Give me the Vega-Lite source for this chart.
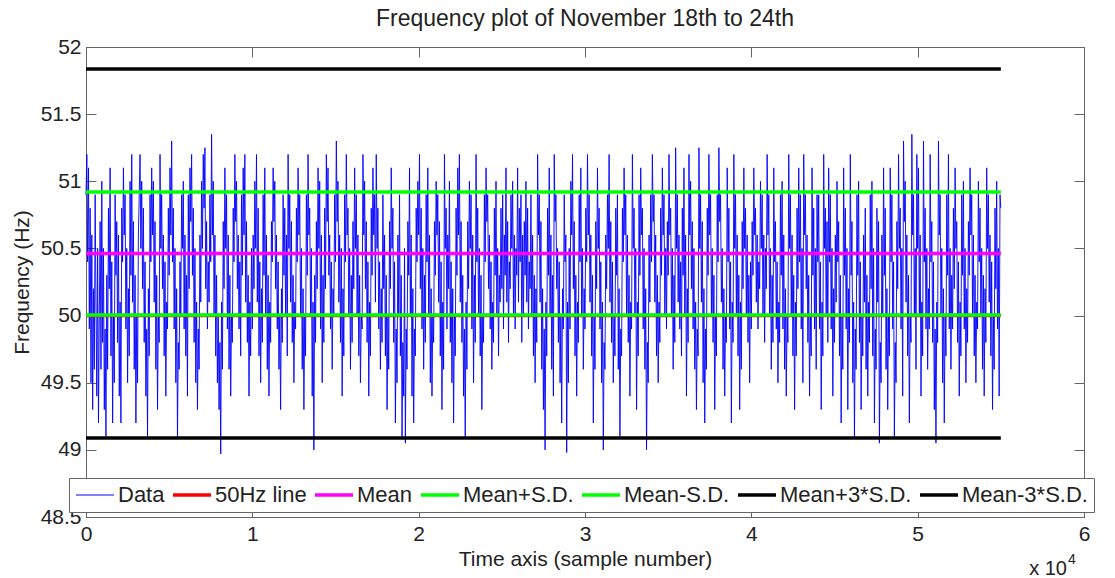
{
  "$schema": "https://vega.github.io/schema/vega-lite/v6.json",
  "autosize": "none",
  "width": 998,
  "height": 470,
  "padding": {"left": 86, "top": 47, "right": 31, "bottom": 61},
  "background": "white",
  "title": {"text": "Frequency plot of November 18th to 24th", "font": "Liberation Sans", "fontSize": 23, "fontWeight": "normal", "color": "#222", "anchor": "middle", "baseline": "alphabetic", "offset": -13},
  "config": {
    "view": {"stroke": "#666", "strokeWidth": 1},
    "axis": {"labelFont": "Liberation Sans", "labelFontSize": 21, "labelColor": "#222", "titleFont": "Liberation Sans", "titleFontSize": 21, "titleFontWeight": "normal", "titleColor": "#222", "grid": false, "domainColor": "#666", "tickColor": "#666", "tickSize": -10, "labelFlush": false, "labelOverlap": false, "labelBound": false},
    "legend": {"title": null, "orient": "none", "legendX": -17, "legendY": 431, "direction": "horizontal", "symbolType": "M-1.9,0H1.9", "symbolSize": 400, "symbolStrokeWidth": 3.5, "symbolOffset": 9, "labelFont": "Liberation Sans", "labelFontSize": 22, "labelColor": "#222", "labelOffset": 12, "columnPadding": 1, "padding": 6, "strokeColor": "#666", "fillColor": "white"}
  },
  "data": {"values": [
{"s":0,"f":50.9},{"s":50,"f":51.2},{"s":100,"f":50.4},{"s":150,"f":51.1},{"s":200,"f":49.9},{"s":250,"f":50.8},{"s":300,"f":49.5},{"s":350,"f":50.6},{"s":400,"f":49.3},{"s":450,"f":50.2},{"s":500,"f":49.6},{"s":550,"f":50.9},{"s":600,"f":50.1},{"s":650,"f":49.4},{"s":700,"f":50.5},{"s":750,"f":49.2},{"s":800,"f":50.0},{"s":850,"f":50.7},{"s":900,"f":49.6},{"s":950,"f":51.0},
{"s":1000,"f":49.8},{"s":1050,"f":50.5},{"s":1100,"f":49.3},{"s":1150,"f":49.9},{"s":1200,"f":49.1},{"s":1250,"f":50.3},{"s":1300,"f":49.6},{"s":1350,"f":50.8},{"s":1400,"f":50.2},{"s":1450,"f":51.1},{"s":1500,"f":49.7},{"s":1550,"f":50.4},{"s":1600,"f":49.2},{"s":1650,"f":50.0},{"s":1700,"f":49.5},{"s":1750,"f":50.9},{"s":1800,"f":50.3},{"s":1850,"f":50.7},{"s":1900,"f":49.8},{"s":1950,"f":50.6},
{"s":2000,"f":49.4},{"s":2050,"f":50.1},{"s":2100,"f":49.2},{"s":2150,"f":50.8},{"s":2200,"f":50.4},{"s":2250,"f":51.1},{"s":2300,"f":50.6},{"s":2350,"f":50.9},{"s":2400,"f":49.9},{"s":2450,"f":50.5},{"s":2500,"f":49.5},{"s":2550,"f":50.2},{"s":2600,"f":49.7},{"s":2650,"f":51.0},{"s":2700,"f":50.3},{"s":2750,"f":51.2},{"s":2800,"f":50.1},{"s":2850,"f":50.7},{"s":2900,"f":49.6},{"s":2950,"f":50.3},
{"s":3000,"f":49.2},{"s":3050,"f":50.0},{"s":3100,"f":49.5},{"s":3150,"f":50.6},{"s":3200,"f":50.9},{"s":3250,"f":51.2},{"s":3300,"f":50.5},{"s":3350,"f":51.0},{"s":3400,"f":50.2},{"s":3450,"f":50.8},{"s":3500,"f":49.8},{"s":3550,"f":50.4},{"s":3600,"f":49.4},{"s":3650,"f":49.9},{"s":3700,"f":49.1},{"s":3750,"f":50.2},{"s":3800,"f":49.7},{"s":3850,"f":50.9},{"s":3900,"f":50.4},{"s":3950,"f":51.1},
{"s":4000,"f":50.6},{"s":4050,"f":51.0},{"s":4100,"f":50.1},{"s":4150,"f":50.7},{"s":4200,"f":49.6},{"s":4250,"f":50.3},{"s":4300,"f":49.3},{"s":4350,"f":50.0},{"s":4400,"f":49.8},{"s":4450,"f":51.2},{"s":4500,"f":50.5},{"s":4550,"f":50.9},{"s":4600,"f":50.2},{"s":4650,"f":50.6},{"s":4700,"f":49.7},{"s":4750,"f":50.4},{"s":4800,"f":49.4},{"s":4850,"f":50.1},{"s":4900,"f":49.9},{"s":4950,"f":50.8},
{"s":5000,"f":50.3},{"s":5050,"f":51.1},{"s":5100,"f":50.6},{"s":5150,"f":51.3},{"s":5200,"f":50.4},{"s":5250,"f":50.8},{"s":5300,"f":49.9},{"s":5350,"f":50.5},{"s":5400,"f":49.5},{"s":5450,"f":50.2},{"s":5500,"f":49.1},{"s":5550,"f":49.8},{"s":5600,"f":49.6},{"s":5650,"f":50.4},{"s":5700,"f":50.0},{"s":5750,"f":50.9},{"s":5800,"f":50.5},{"s":5850,"f":51.0},{"s":5900,"f":49.9},{"s":5950,"f":50.6},
{"s":6000,"f":49.7},{"s":6050,"f":50.3},{"s":6100,"f":49.4},{"s":6150,"f":50.9},{"s":6200,"f":50.2},{"s":6250,"f":51.1},{"s":6300,"f":50.7},{"s":6350,"f":51.2},{"s":6400,"f":50.3},{"s":6450,"f":50.8},{"s":6500,"f":49.8},{"s":6550,"f":50.5},{"s":6600,"f":49.5},{"s":6650,"f":50.1},{"s":6700,"f":49.3},{"s":6750,"f":49.9},{"s":6800,"f":49.6},{"s":6850,"f":50.6},{"s":6900,"f":50.1},{"s":6950,"f":51.0},
{"s":7000,"f":50.5},{"s":7050,"f":51.2},{"s":7100,"f":50.8},{"s":7150,"f":51.25},{"s":7200,"f":50.2},{"s":7250,"f":50.7},{"s":7300,"f":49.9},{"s":7350,"f":50.4},{"s":7400,"f":50.1},{"s":7450,"f":50.9},{"s":7500,"f":50.4},{"s":7550,"f":51.35},{"s":7600,"f":50.6},{"s":7650,"f":51.0},{"s":7700,"f":50.0},{"s":7750,"f":50.6},{"s":7800,"f":49.7},{"s":7850,"f":50.3},{"s":7900,"f":49.5},{"s":7950,"f":50.0},
{"s":8000,"f":49.3},{"s":8050,"f":49.8},{"s":8100,"f":48.97},{"s":8150,"f":50.1},{"s":8200,"f":49.6},{"s":8250,"f":50.7},{"s":8300,"f":50.2},{"s":8350,"f":51.1},{"s":8400,"f":50.5},{"s":8450,"f":50.9},{"s":8500,"f":49.9},{"s":8550,"f":50.6},{"s":8600,"f":49.6},{"s":8650,"f":50.3},{"s":8700,"f":49.4},{"s":8750,"f":50.0},{"s":8800,"f":49.8},{"s":8850,"f":50.8},{"s":8900,"f":50.4},{"s":8950,"f":51.2},
{"s":9000,"f":50.7},{"s":9050,"f":51.0},{"s":9100,"f":50.2},{"s":9150,"f":50.6},{"s":9200,"f":49.9},{"s":9250,"f":50.4},{"s":9300,"f":49.7},{"s":9350,"f":50.9},{"s":9400,"f":50.3},{"s":9450,"f":51.1},{"s":9500,"f":50.6},{"s":9550,"f":51.2},{"s":9600,"f":50.1},{"s":9650,"f":50.7},{"s":9700,"f":49.8},{"s":9750,"f":50.3},{"s":9800,"f":49.4},{"s":9850,"f":50.1},{"s":9900,"f":49.7},{"s":9950,"f":50.5},
{"s":10000,"f":49.9},{"s":10050,"f":50.6},{"s":10100,"f":50.2},{"s":10150,"f":51.0},{"s":10200,"f":50.5},{"s":10250,"f":51.2},{"s":10300,"f":50.1},{"s":10350,"f":50.8},{"s":10400,"f":49.7},{"s":10450,"f":50.4},{"s":10500,"f":49.5},{"s":10550,"f":50.2},{"s":10600,"f":49.8},{"s":10650,"f":50.9},{"s":10700,"f":50.3},{"s":10750,"f":51.1},{"s":10800,"f":50.0},{"s":10850,"f":50.6},{"s":10900,"f":49.6},{"s":10950,"f":50.3},
{"s":11000,"f":49.4},{"s":11050,"f":50.1},{"s":11100,"f":49.8},{"s":11150,"f":50.7},{"s":11200,"f":50.4},{"s":11250,"f":51.1},{"s":11300,"f":50.7},{"s":11350,"f":51.0},{"s":11400,"f":50.2},{"s":11450,"f":50.6},{"s":11500,"f":49.9},{"s":11550,"f":50.4},{"s":11600,"f":49.6},{"s":11650,"f":50.0},{"s":11700,"f":49.3},{"s":11750,"f":50.2},{"s":11800,"f":49.8},{"s":11850,"f":50.9},{"s":11900,"f":50.3},{"s":11950,"f":50.8},
{"s":12000,"f":50.0},{"s":12050,"f":50.6},{"s":12100,"f":49.7},{"s":12150,"f":51.2},{"s":12200,"f":50.5},{"s":12250,"f":50.9},{"s":12300,"f":50.1},{"s":12350,"f":50.7},{"s":12400,"f":49.8},{"s":12450,"f":50.3},{"s":12500,"f":49.5},{"s":12550,"f":50.1},{"s":12600,"f":49.9},{"s":12650,"f":50.8},{"s":12700,"f":50.4},{"s":12750,"f":51.1},{"s":12800,"f":50.6},{"s":12850,"f":50.9},{"s":12900,"f":50.0},{"s":12950,"f":50.5},
{"s":13000,"f":49.6},{"s":13050,"f":50.2},{"s":13100,"f":49.3},{"s":13150,"f":50.0},{"s":13200,"f":49.7},{"s":13250,"f":50.9},{"s":13300,"f":50.3},{"s":13350,"f":51.2},{"s":13400,"f":50.6},{"s":13450,"f":50.8},{"s":13500,"f":50.0},{"s":13550,"f":50.5},{"s":13600,"f":49.4},{"s":13650,"f":50.1},{"s":13700,"f":49.0},{"s":13750,"f":50.3},{"s":13800,"f":49.8},{"s":13850,"f":50.7},{"s":13900,"f":50.2},{"s":13950,"f":51.1},
{"s":14000,"f":50.5},{"s":14050,"f":51.0},{"s":14100,"f":49.9},{"s":14150,"f":50.6},{"s":14200,"f":49.5},{"s":14250,"f":50.3},{"s":14300,"f":49.8},{"s":14350,"f":50.8},{"s":14400,"f":50.2},{"s":14450,"f":51.2},{"s":14500,"f":50.7},{"s":14550,"f":51.1},{"s":14600,"f":50.3},{"s":14650,"f":50.6},{"s":14700,"f":49.9},{"s":14750,"f":50.4},{"s":14800,"f":49.6},{"s":14850,"f":50.2},{"s":14900,"f":50.0},{"s":14950,"f":50.9},
{"s":15000,"f":50.4},{"s":15050,"f":51.3},{"s":15100,"f":50.7},{"s":15150,"f":51.0},{"s":15200,"f":50.1},{"s":15250,"f":50.6},{"s":15300,"f":49.8},{"s":15350,"f":50.5},{"s":15400,"f":49.4},{"s":15450,"f":50.2},{"s":15500,"f":49.7},{"s":15550,"f":50.9},{"s":15600,"f":50.4},{"s":15650,"f":51.2},{"s":15700,"f":50.6},{"s":15750,"f":50.8},{"s":15800,"f":50.0},{"s":15850,"f":50.5},{"s":15900,"f":49.6},{"s":15950,"f":50.3},
{"s":16000,"f":49.8},{"s":16050,"f":50.7},{"s":16100,"f":50.2},{"s":16150,"f":51.1},{"s":16200,"f":50.5},{"s":16250,"f":50.9},{"s":16300,"f":50.0},{"s":16350,"f":50.6},{"s":16400,"f":49.7},{"s":16450,"f":50.3},{"s":16500,"f":49.5},{"s":16550,"f":50.0},{"s":16600,"f":49.9},{"s":16650,"f":51.2},{"s":16700,"f":50.6},{"s":16750,"f":51.0},{"s":16800,"f":50.2},{"s":16850,"f":50.7},{"s":16900,"f":49.8},{"s":16950,"f":50.4},
{"s":17000,"f":49.4},{"s":17050,"f":50.1},{"s":17100,"f":49.7},{"s":17150,"f":50.8},{"s":17200,"f":50.3},{"s":17250,"f":51.1},{"s":17300,"f":50.6},{"s":17350,"f":50.9},{"s":17400,"f":50.1},{"s":17450,"f":51.2},{"s":17500,"f":50.5},{"s":17550,"f":50.8},{"s":17600,"f":49.9},{"s":17650,"f":50.4},{"s":17700,"f":49.6},{"s":17750,"f":50.2},{"s":17800,"f":49.8},{"s":17850,"f":50.9},{"s":17900,"f":50.2},{"s":17950,"f":50.6},
{"s":18000,"f":49.7},{"s":18050,"f":50.3},{"s":18100,"f":49.3},{"s":18150,"f":50.0},{"s":18200,"f":49.6},{"s":18250,"f":50.7},{"s":18300,"f":50.2},{"s":18350,"f":51.1},{"s":18400,"f":50.5},{"s":18450,"f":50.8},{"s":18500,"f":49.8},{"s":18550,"f":50.4},{"s":18600,"f":49.2},{"s":18650,"f":49.9},{"s":18700,"f":49.5},{"s":18750,"f":50.6},{"s":18800,"f":50.0},{"s":18850,"f":50.9},{"s":18900,"f":49.7},{"s":18950,"f":50.3},
{"s":19000,"f":49.1},{"s":19050,"f":49.8},{"s":19100,"f":49.4},{"s":19150,"f":50.5},{"s":19200,"f":49.05},{"s":19250,"f":49.9},{"s":19300,"f":49.6},{"s":19350,"f":50.7},{"s":19400,"f":50.3},{"s":19450,"f":51.1},{"s":19500,"f":50.0},{"s":19550,"f":50.6},{"s":19600,"f":49.4},{"s":19650,"f":50.2},{"s":19700,"f":49.2},{"s":19750,"f":49.9},{"s":19800,"f":49.7},{"s":19850,"f":50.8},{"s":19900,"f":50.4},{"s":19950,"f":51.0},
{"s":20000,"f":50.6},{"s":20050,"f":51.2},{"s":20100,"f":50.2},{"s":20150,"f":50.8},{"s":20200,"f":49.9},{"s":20250,"f":50.5},{"s":20300,"f":49.6},{"s":20350,"f":50.3},{"s":20400,"f":49.8},{"s":20450,"f":50.9},{"s":20500,"f":50.4},{"s":20550,"f":51.1},{"s":20600,"f":50.0},{"s":20650,"f":50.6},{"s":20700,"f":49.5},{"s":20750,"f":50.2},{"s":20800,"f":49.4},{"s":20850,"f":50.0},{"s":20900,"f":49.8},{"s":20950,"f":50.7},
{"s":21000,"f":50.3},{"s":21050,"f":51.0},{"s":21100,"f":50.6},{"s":21150,"f":50.9},{"s":21200,"f":50.1},{"s":21250,"f":50.7},{"s":21300,"f":49.7},{"s":21350,"f":50.4},{"s":21400,"f":49.3},{"s":21450,"f":50.1},{"s":21500,"f":49.6},{"s":21550,"f":51.2},{"s":21600,"f":50.5},{"s":21650,"f":50.8},{"s":21700,"f":49.9},{"s":21750,"f":50.6},{"s":21800,"f":50.2},{"s":21850,"f":51.0},{"s":21900,"f":49.8},{"s":21950,"f":50.4},
{"s":22000,"f":49.5},{"s":22050,"f":50.2},{"s":22100,"f":49.2},{"s":22150,"f":50.0},{"s":22200,"f":49.7},{"s":22250,"f":50.8},{"s":22300,"f":50.3},{"s":22350,"f":51.1},{"s":22400,"f":50.6},{"s":22450,"f":51.2},{"s":22500,"f":50.1},{"s":22550,"f":50.7},{"s":22600,"f":49.8},{"s":22650,"f":50.3},{"s":22700,"f":49.4},{"s":22750,"f":49.9},{"s":22800,"f":49.1},{"s":22850,"f":50.1},{"s":22900,"f":49.6},{"s":22950,"f":50.7},
{"s":23000,"f":50.2},{"s":23050,"f":51.0},{"s":23100,"f":50.5},{"s":23150,"f":50.9},{"s":23200,"f":49.9},{"s":23250,"f":50.6},{"s":23300,"f":49.5},{"s":23350,"f":50.3},{"s":23400,"f":49.8},{"s":23450,"f":51.2},{"s":23500,"f":50.4},{"s":23550,"f":50.8},{"s":23600,"f":50.0},{"s":23650,"f":50.5},{"s":23700,"f":49.7},{"s":23750,"f":50.3},{"s":23800,"f":49.3},{"s":23850,"f":50.0},{"s":23900,"f":49.8},{"s":23950,"f":50.9},
{"s":24000,"f":50.4},{"s":24050,"f":51.1},{"s":24100,"f":50.7},{"s":24150,"f":50.9},{"s":24200,"f":50.2},{"s":24250,"f":50.6},{"s":24300,"f":49.9},{"s":24350,"f":50.4},{"s":24400,"f":49.6},{"s":24450,"f":50.1},{"s":24500,"f":49.8},{"s":24550,"f":50.8},{"s":24600,"f":50.3},{"s":24650,"f":51.0},{"s":24700,"f":50.0},{"s":24750,"f":50.5},{"s":24800,"f":49.7},{"s":24850,"f":50.3},{"s":24900,"f":50.1},{"s":24950,"f":50.8},
{"s":25000,"f":50.2},{"s":25050,"f":50.9},{"s":25100,"f":49.9},{"s":25150,"f":50.6},{"s":25200,"f":50.3},{"s":25250,"f":51.1},{"s":25300,"f":50.1},{"s":25350,"f":50.7},{"s":25400,"f":49.8},{"s":25450,"f":50.4},{"s":25500,"f":50.2},{"s":25550,"f":50.9},{"s":25600,"f":50.5},{"s":25650,"f":51.0},{"s":25700,"f":50.0},{"s":25750,"f":50.6},{"s":25800,"f":49.9},{"s":25850,"f":50.5},{"s":25900,"f":50.3},{"s":25950,"f":51.1},
{"s":26000,"f":50.1},{"s":26050,"f":50.8},{"s":26100,"f":50.4},{"s":26150,"f":50.9},{"s":26200,"f":49.8},{"s":26250,"f":50.6},{"s":26300,"f":50.0},{"s":26350,"f":50.7},{"s":26400,"f":50.3},{"s":26450,"f":51.0},{"s":26500,"f":50.1},{"s":26550,"f":50.8},{"s":26600,"f":49.9},{"s":26650,"f":50.4},{"s":26700,"f":50.2},{"s":26750,"f":50.9},{"s":26800,"f":50.0},{"s":26850,"f":50.6},{"s":26900,"f":49.7},{"s":26950,"f":50.3},
{"s":27000,"f":49.5},{"s":27050,"f":50.2},{"s":27100,"f":49.8},{"s":27150,"f":51.2},{"s":27200,"f":50.6},{"s":27250,"f":50.9},{"s":27300,"f":50.1},{"s":27350,"f":50.7},{"s":27400,"f":49.6},{"s":27450,"f":50.2},{"s":27500,"f":49.3},{"s":27550,"f":49.9},{"s":27600,"f":49.0},{"s":27650,"f":50.1},{"s":27700,"f":49.7},{"s":27750,"f":50.8},{"s":27800,"f":50.3},{"s":27850,"f":51.1},{"s":27900,"f":50.0},{"s":27950,"f":50.6},
{"s":28000,"f":49.6},{"s":28050,"f":50.3},{"s":28100,"f":49.4},{"s":28150,"f":51.2},{"s":28200,"f":50.7},{"s":28250,"f":50.9},{"s":28300,"f":50.2},{"s":28350,"f":50.5},{"s":28400,"f":49.8},{"s":28450,"f":50.4},{"s":28500,"f":49.5},{"s":28550,"f":50.0},{"s":28600,"f":49.2},{"s":28650,"f":50.2},{"s":28700,"f":49.9},{"s":28750,"f":50.9},{"s":28800,"f":50.4},{"s":28850,"f":50.6},{"s":28900,"f":48.98},{"s":28950,"f":50.1},
{"s":29000,"f":49.5},{"s":29050,"f":50.5},{"s":29100,"f":49.9},{"s":29150,"f":51.0},{"s":29200,"f":50.6},{"s":29250,"f":51.2},{"s":29300,"f":50.2},{"s":29350,"f":50.7},{"s":29400,"f":49.7},{"s":29450,"f":50.3},{"s":29500,"f":49.4},{"s":29550,"f":50.1},{"s":29600,"f":49.8},{"s":29650,"f":50.9},{"s":29700,"f":50.4},{"s":29750,"f":51.1},{"s":29800,"f":50.0},{"s":29850,"f":50.5},{"s":29900,"f":49.6},{"s":29950,"f":50.2},
{"s":30000,"f":49.9},{"s":30050,"f":50.8},{"s":30100,"f":50.4},{"s":30150,"f":51.2},{"s":30200,"f":50.6},{"s":30250,"f":50.9},{"s":30300,"f":50.1},{"s":30350,"f":50.6},{"s":30400,"f":49.7},{"s":30450,"f":50.3},{"s":30500,"f":49.2},{"s":30550,"f":50.0},{"s":30600,"f":49.6},{"s":30650,"f":50.7},{"s":30700,"f":50.2},{"s":30750,"f":51.1},{"s":30800,"f":50.5},{"s":30850,"f":50.8},{"s":30900,"f":49.9},{"s":30950,"f":50.4},
{"s":31000,"f":49.5},{"s":31050,"f":50.1},{"s":31100,"f":49.0},{"s":31150,"f":49.8},{"s":31200,"f":49.6},{"s":31250,"f":50.6},{"s":31300,"f":50.2},{"s":31350,"f":50.9},{"s":31400,"f":50.5},{"s":31450,"f":51.2},{"s":31500,"f":50.1},{"s":31550,"f":50.7},{"s":31600,"f":49.8},{"s":31650,"f":50.4},{"s":31700,"f":49.5},{"s":31750,"f":50.0},{"s":31800,"f":49.7},{"s":31850,"f":50.8},{"s":31900,"f":50.3},{"s":31950,"f":50.9},
{"s":32000,"f":49.6},{"s":32050,"f":50.2},{"s":32100,"f":49.1},{"s":32150,"f":49.9},{"s":32200,"f":49.7},{"s":32250,"f":50.8},{"s":32300,"f":50.4},{"s":32350,"f":51.1},{"s":32400,"f":50.6},{"s":32450,"f":50.9},{"s":32500,"f":50.0},{"s":32550,"f":50.6},{"s":32600,"f":49.8},{"s":32650,"f":50.3},{"s":32700,"f":49.4},{"s":32750,"f":50.1},{"s":32800,"f":49.9},{"s":32850,"f":51.2},{"s":32900,"f":50.5},{"s":32950,"f":50.8},
{"s":33000,"f":50.0},{"s":33050,"f":50.5},{"s":33100,"f":49.3},{"s":33150,"f":50.1},{"s":33200,"f":49.7},{"s":33250,"f":50.9},{"s":33300,"f":50.3},{"s":33350,"f":51.1},{"s":33400,"f":50.6},{"s":33450,"f":50.8},{"s":33500,"f":49.9},{"s":33550,"f":50.5},{"s":33600,"f":49.6},{"s":33650,"f":50.2},{"s":33700,"f":49.0},{"s":33750,"f":49.8},{"s":33800,"f":49.5},{"s":33850,"f":50.6},{"s":33900,"f":50.1},{"s":33950,"f":50.9},
{"s":34000,"f":50.4},{"s":34050,"f":51.2},{"s":34100,"f":50.7},{"s":34150,"f":50.9},{"s":34200,"f":50.1},{"s":34250,"f":50.6},{"s":34300,"f":49.7},{"s":34350,"f":50.3},{"s":34400,"f":49.5},{"s":34450,"f":50.1},{"s":34500,"f":49.8},{"s":34550,"f":50.8},{"s":34600,"f":50.3},{"s":34650,"f":51.1},{"s":34700,"f":50.6},{"s":34750,"f":50.9},{"s":34800,"f":50.0},{"s":34850,"f":50.5},{"s":34900,"f":49.9},{"s":34950,"f":50.7},
{"s":35000,"f":50.3},{"s":35050,"f":51.2},{"s":35100,"f":50.6},{"s":35150,"f":50.8},{"s":35200,"f":50.0},{"s":35250,"f":50.5},{"s":35300,"f":49.6},{"s":35350,"f":50.3},{"s":35400,"f":49.8},{"s":35450,"f":51.25},{"s":35500,"f":50.5},{"s":35550,"f":50.9},{"s":35600,"f":50.1},{"s":35650,"f":50.6},{"s":35700,"f":49.9},{"s":35750,"f":50.4},{"s":35800,"f":49.7},{"s":35850,"f":50.8},{"s":35900,"f":50.3},{"s":35950,"f":51.1},
{"s":36000,"f":50.0},{"s":36050,"f":50.6},{"s":36100,"f":49.4},{"s":36150,"f":50.2},{"s":36200,"f":49.8},{"s":36250,"f":51.2},{"s":36300,"f":50.6},{"s":36350,"f":51.0},{"s":36400,"f":50.2},{"s":36450,"f":50.7},{"s":36500,"f":49.9},{"s":36550,"f":50.5},{"s":36600,"f":49.6},{"s":36650,"f":50.1},{"s":36700,"f":49.3},{"s":36750,"f":49.9},{"s":36800,"f":49.7},{"s":36850,"f":51.25},{"s":36900,"f":50.5},{"s":36950,"f":50.9},
{"s":37000,"f":50.1},{"s":37050,"f":50.7},{"s":37100,"f":49.5},{"s":37150,"f":50.2},{"s":37200,"f":49.2},{"s":37250,"f":49.9},{"s":37300,"f":49.6},{"s":37350,"f":50.8},{"s":37400,"f":50.3},{"s":37450,"f":51.2},{"s":37500,"f":50.6},{"s":37550,"f":50.9},{"s":37600,"f":50.0},{"s":37650,"f":50.5},{"s":37700,"f":49.8},{"s":37750,"f":50.3},{"s":37800,"f":49.3},{"s":37850,"f":50.0},{"s":37900,"f":49.7},{"s":37950,"f":50.9},
{"s":38000,"f":50.4},{"s":38050,"f":51.25},{"s":38100,"f":50.7},{"s":38150,"f":50.9},{"s":38200,"f":50.1},{"s":38250,"f":50.5},{"s":38300,"f":49.6},{"s":38350,"f":50.2},{"s":38400,"f":49.4},{"s":38450,"f":50.0},{"s":38500,"f":49.8},{"s":38550,"f":51.1},{"s":38600,"f":50.4},{"s":38650,"f":50.8},{"s":38700,"f":49.9},{"s":38750,"f":50.4},{"s":38800,"f":49.2},{"s":38850,"f":50.1},{"s":38900,"f":49.8},{"s":38950,"f":51.2},
{"s":39000,"f":50.5},{"s":39050,"f":50.9},{"s":39100,"f":50.0},{"s":39150,"f":50.6},{"s":39200,"f":49.7},{"s":39250,"f":50.3},{"s":39300,"f":49.3},{"s":39350,"f":50.1},{"s":39400,"f":49.6},{"s":39450,"f":50.7},{"s":39500,"f":50.2},{"s":39550,"f":51.1},{"s":39600,"f":50.5},{"s":39650,"f":50.8},{"s":39700,"f":50.0},{"s":39750,"f":50.6},{"s":39800,"f":49.8},{"s":39850,"f":50.3},{"s":39900,"f":49.5},{"s":39950,"f":50.4},
{"s":40000,"f":49.9},{"s":40050,"f":50.7},{"s":40100,"f":50.3},{"s":40150,"f":51.1},{"s":40200,"f":50.6},{"s":40250,"f":50.8},{"s":40300,"f":50.1},{"s":40350,"f":50.6},{"s":40400,"f":49.9},{"s":40450,"f":50.4},{"s":40500,"f":50.2},{"s":40550,"f":51.0},{"s":40600,"f":50.5},{"s":40650,"f":50.9},{"s":40700,"f":50.0},{"s":40750,"f":50.6},{"s":40800,"f":49.8},{"s":40850,"f":50.5},{"s":40900,"f":50.2},{"s":40950,"f":51.2},
{"s":41000,"f":50.6},{"s":41050,"f":50.9},{"s":41100,"f":50.0},{"s":41150,"f":50.5},{"s":41200,"f":49.6},{"s":41250,"f":50.3},{"s":41300,"f":49.8},{"s":41350,"f":51.1},{"s":41400,"f":50.4},{"s":41450,"f":50.7},{"s":41500,"f":49.9},{"s":41550,"f":50.4},{"s":41600,"f":49.5},{"s":41650,"f":50.1},{"s":41700,"f":49.8},{"s":41750,"f":50.9},{"s":41800,"f":50.3},{"s":41850,"f":51.0},{"s":41900,"f":49.9},{"s":41950,"f":50.6},
{"s":42000,"f":49.6},{"s":42050,"f":50.2},{"s":42100,"f":49.4},{"s":42150,"f":50.0},{"s":42200,"f":49.8},{"s":42250,"f":51.2},{"s":42300,"f":50.5},{"s":42350,"f":50.9},{"s":42400,"f":50.0},{"s":42450,"f":50.6},{"s":42500,"f":49.7},{"s":42550,"f":50.3},{"s":42600,"f":49.3},{"s":42650,"f":50.1},{"s":42700,"f":49.7},{"s":42750,"f":50.8},{"s":42800,"f":50.2},{"s":42850,"f":51.1},{"s":42900,"f":50.4},{"s":42950,"f":50.9},
{"s":43000,"f":49.9},{"s":43050,"f":50.5},{"s":43100,"f":49.5},{"s":43150,"f":51.2},{"s":43200,"f":50.6},{"s":43250,"f":50.9},{"s":43300,"f":50.2},{"s":43350,"f":50.6},{"s":43400,"f":49.8},{"s":43450,"f":50.3},{"s":43500,"f":49.4},{"s":43550,"f":50.0},{"s":43600,"f":49.7},{"s":43650,"f":51.1},{"s":43700,"f":50.3},{"s":43750,"f":50.8},{"s":43800,"f":49.9},{"s":43850,"f":50.5},{"s":43900,"f":49.6},{"s":43950,"f":50.9},
{"s":44000,"f":50.4},{"s":44050,"f":50.9},{"s":44100,"f":49.9},{"s":44150,"f":50.4},{"s":44200,"f":49.3},{"s":44250,"f":50.1},{"s":44300,"f":49.7},{"s":44350,"f":51.2},{"s":44400,"f":50.5},{"s":44450,"f":50.8},{"s":44500,"f":50.0},{"s":44550,"f":50.7},{"s":44600,"f":49.8},{"s":44650,"f":51.1},{"s":44700,"f":50.4},{"s":44750,"f":50.9},{"s":44800,"f":49.9},{"s":44850,"f":50.5},{"s":44900,"f":49.4},{"s":44950,"f":50.2},
{"s":45000,"f":49.8},{"s":45050,"f":50.6},{"s":45100,"f":50.1},{"s":45150,"f":51.0},{"s":45200,"f":50.4},{"s":45250,"f":50.7},{"s":45300,"f":49.7},{"s":45350,"f":50.3},{"s":45400,"f":49.2},{"s":45450,"f":50.0},{"s":45500,"f":49.6},{"s":45550,"f":51.1},{"s":45600,"f":50.3},{"s":45650,"f":50.8},{"s":45700,"f":49.9},{"s":45750,"f":50.5},{"s":45800,"f":49.3},{"s":45850,"f":50.2},{"s":45900,"f":49.8},{"s":45950,"f":51.2},
{"s":46000,"f":50.3},{"s":46050,"f":50.7},{"s":46100,"f":49.5},{"s":46150,"f":50.1},{"s":46200,"f":49.1},{"s":46250,"f":49.9},{"s":46300,"f":49.6},{"s":46350,"f":50.9},{"s":46400,"f":50.3},{"s":46450,"f":51.0},{"s":46500,"f":49.8},{"s":46550,"f":50.4},{"s":46600,"f":49.3},{"s":46650,"f":50.0},{"s":46700,"f":49.7},{"s":46750,"f":50.6},{"s":46800,"f":50.1},{"s":46850,"f":50.8},{"s":46900,"f":49.6},{"s":46950,"f":50.3},
{"s":47000,"f":49.4},{"s":47050,"f":50.1},{"s":47100,"f":49.8},{"s":47150,"f":50.9},{"s":47200,"f":50.2},{"s":47250,"f":51.0},{"s":47300,"f":49.7},{"s":47350,"f":50.5},{"s":47400,"f":49.2},{"s":47450,"f":49.9},{"s":47500,"f":49.6},{"s":47550,"f":50.8},{"s":47600,"f":50.1},{"s":47650,"f":50.7},{"s":47700,"f":49.05},{"s":47750,"f":49.8},{"s":47800,"f":49.5},{"s":47850,"f":50.6},{"s":47900,"f":50.0},{"s":47950,"f":51.1},
{"s":48000,"f":50.3},{"s":48050,"f":50.8},{"s":48100,"f":49.6},{"s":48150,"f":50.2},{"s":48200,"f":49.3},{"s":48250,"f":50.0},{"s":48300,"f":49.7},{"s":48350,"f":51.1},{"s":48400,"f":50.4},{"s":48450,"f":50.9},{"s":48500,"f":49.9},{"s":48550,"f":50.4},{"s":48600,"f":49.1},{"s":48650,"f":49.8},{"s":48700,"f":49.5},{"s":48750,"f":50.7},{"s":48800,"f":50.2},{"s":48850,"f":51.2},{"s":48900,"f":50.5},{"s":48950,"f":50.8},
{"s":49000,"f":49.9},{"s":49050,"f":50.5},{"s":49100,"f":49.4},{"s":49150,"f":51.3},{"s":49200,"f":50.7},{"s":49250,"f":51.0},{"s":49300,"f":50.1},{"s":49350,"f":50.6},{"s":49400,"f":49.7},{"s":49450,"f":50.3},{"s":49500,"f":49.2},{"s":49550,"f":50.0},{"s":49600,"f":49.8},{"s":49650,"f":51.35},{"s":49700,"f":50.6},{"s":49750,"f":50.9},{"s":49800,"f":50.0},{"s":49850,"f":50.5},{"s":49900,"f":49.6},{"s":49950,"f":51.2},
{"s":50000,"f":50.5},{"s":50050,"f":51.1},{"s":50100,"f":50.0},{"s":50150,"f":50.6},{"s":50200,"f":49.4},{"s":50250,"f":50.1},{"s":50300,"f":49.7},{"s":50350,"f":51.3},{"s":50400,"f":50.4},{"s":50450,"f":50.8},{"s":50500,"f":49.9},{"s":50550,"f":50.5},{"s":50600,"f":49.6},{"s":50650,"f":50.2},{"s":50700,"f":49.9},{"s":50750,"f":51.2},{"s":50800,"f":50.4},{"s":50850,"f":50.7},{"s":50900,"f":49.8},{"s":50950,"f":50.4},
{"s":51000,"f":49.3},{"s":51050,"f":49.9},{"s":51100,"f":49.05},{"s":51150,"f":50.1},{"s":51200,"f":49.8},{"s":51250,"f":51.3},{"s":51300,"f":50.6},{"s":51350,"f":50.9},{"s":51400,"f":50.0},{"s":51450,"f":50.5},{"s":51500,"f":49.5},{"s":51550,"f":50.2},{"s":51600,"f":49.2},{"s":51650,"f":50.0},{"s":51700,"f":49.7},{"s":51750,"f":50.9},{"s":51800,"f":50.3},{"s":51850,"f":51.2},{"s":51900,"f":49.9},{"s":51950,"f":50.5},
{"s":52000,"f":49.6},{"s":52050,"f":50.3},{"s":52100,"f":49.9},{"s":52150,"f":50.8},{"s":52200,"f":50.2},{"s":52250,"f":51.1},{"s":52300,"f":50.5},{"s":52350,"f":50.7},{"s":52400,"f":49.8},{"s":52450,"f":50.4},{"s":52500,"f":49.4},{"s":52550,"f":50.1},{"s":52600,"f":49.7},{"s":52650,"f":50.9},{"s":52700,"f":50.3},{"s":52750,"f":51.0},{"s":52800,"f":49.9},{"s":52850,"f":50.5},{"s":52900,"f":49.5},{"s":52950,"f":50.2},
{"s":53000,"f":49.8},{"s":53050,"f":50.7},{"s":53100,"f":50.3},{"s":53150,"f":51.1},{"s":53200,"f":50.6},{"s":53250,"f":50.9},{"s":53300,"f":50.0},{"s":53350,"f":50.6},{"s":53400,"f":49.7},{"s":53450,"f":50.3},{"s":53500,"f":49.5},{"s":53550,"f":50.1},{"s":53600,"f":49.9},{"s":53650,"f":51.0},{"s":53700,"f":50.4},{"s":53750,"f":50.8},{"s":53800,"f":50.0},{"s":53850,"f":50.5},{"s":53900,"f":49.6},{"s":53950,"f":50.3},
{"s":54000,"f":49.4},{"s":54050,"f":50.2},{"s":54100,"f":49.8},{"s":54150,"f":51.1},{"s":54200,"f":50.5},{"s":54250,"f":50.9},{"s":54300,"f":50.1},{"s":54350,"f":50.6},{"s":54400,"f":49.7},{"s":54450,"f":50.4},{"s":54500,"f":49.3},{"s":54550,"f":50.0},{"s":54600,"f":49.6},{"s":54650,"f":50.8},{"s":54700,"f":50.2},{"s":54750,"f":51.0},{"s":54800,"f":49.9},{"s":54850,"f":50.5},{"s":54900,"f":49.4},{"s":54950,"f":50.9},
{"s":55000,"f":50.8}
  ]},
  "layer": [
    {
      "mark": {"type": "line", "strokeWidth": 1, "opacity": 0.9},
      "encoding": {
        "x": {"field": "s", "type": "quantitative", "scale": {"domain": [0, 60000], "nice": false, "zero": false}, "axis": {"values": [0, 10000, 20000, 30000, 40000, 50000, 60000], "labelExpr": "datum.value / 10000", "title": "Time axis (sample number)", "labelPadding": 16, "titlePadding": 4}},
        "y": {"field": "f", "type": "quantitative", "scale": {"domain": [48.5, 52], "nice": false, "zero": false}, "axis": {"values": [48.5, 49, 49.5, 50, 50.5, 51, 51.5, 52], "format": "~g", "title": "Frequency (Hz)", "labelPadding": 15, "titlePadding": 8}},
        "color": {"datum": "Data", "type": "nominal", "scale": {"domain": ["Data", "50Hz line", "Mean", "Mean+S.D.", "Mean-S.D.", "Mean+3*S.D.", "Mean-3*S.D."], "range": ["#0000ff", "#ff0000", "#ff00ff", "#00ff00", "#00ff00", "#000000", "#000000"]}, "legend": {"symbolStrokeWidth": 3.5, "encode": {"symbols": {"update": {"strokeWidth": {"signal": "datum.value === 'Data' ? 1.2 : 3.5"}}}}}}
      }
    },
    {
      "data": {"values": [
        {"name": "50Hz line", "v": 50, "s0": 0, "s1": 55000},
        {"name": "Mean", "v": 50.463, "s0": 0, "s1": 55000},
        {"name": "Mean+S.D.", "v": 50.921, "s0": 0, "s1": 55000},
        {"name": "Mean-S.D.", "v": 50.005, "s0": 0, "s1": 55000},
        {"name": "Mean+3*S.D.", "v": 51.837, "s0": 0, "s1": 55000},
        {"name": "Mean-3*S.D.", "v": 49.089, "s0": 0, "s1": 55000}
      ]},
      "mark": {"type": "rule", "strokeWidth": 3.5},
      "encoding": {
        "x": {"field": "s0", "type": "quantitative", "scale": {"domain": [0, 60000], "nice": false, "zero": false}, "axis": {"orient": "top", "values": [0, 10000, 20000, 30000, 40000, 50000, 60000], "labels": false, "title": null}},
        "x2": {"field": "s1"},
        "y": {"field": "v", "type": "quantitative", "scale": {"domain": [48.5, 52], "nice": false, "zero": false}, "axis": {"orient": "right", "values": [48.5, 49, 49.5, 50, 50.5, 51, 51.5, 52], "labels": false, "title": null}},
        "color": {"field": "name", "type": "nominal", "scale": {"domain": ["Data", "50Hz line", "Mean", "Mean+S.D.", "Mean-S.D.", "Mean+3*S.D.", "Mean-3*S.D."], "range": ["#0000ff", "#ff0000", "#ff00ff", "#00ff00", "#00ff00", "#000000", "#000000"]}, "legend": {"encode": {"symbols": {"update": {"strokeWidth": {"signal": "datum.value === 'Data' ? 1.2 : 3.5"}}}}}}
      }
    },
    {
      "data": {"values": [{"t": "x 10"}]},
      "mark": {"type": "text", "align": "right", "baseline": "alphabetic", "dx": -17, "dy": 58, "font": "Liberation Sans", "fontSize": 20, "color": "#222"},
      "encoding": {
        "x": {"datum": 60000, "type": "quantitative", "axis": null},
        "y": {"datum": 48.5, "type": "quantitative", "axis": null},
        "text": {"field": "t"}
      }
    },
    {
      "data": {"values": [{"t": "4"}]},
      "mark": {"type": "text", "align": "left", "baseline": "alphabetic", "dx": -16, "dy": 47, "font": "Liberation Sans", "fontSize": 14, "color": "#222"},
      "encoding": {
        "x": {"datum": 60000, "type": "quantitative", "axis": null},
        "y": {"datum": 48.5, "type": "quantitative", "axis": null},
        "text": {"field": "t"}
      }
    }
  ],
  "resolve": {"axis": {"x": "independent", "y": "independent"}}
}
